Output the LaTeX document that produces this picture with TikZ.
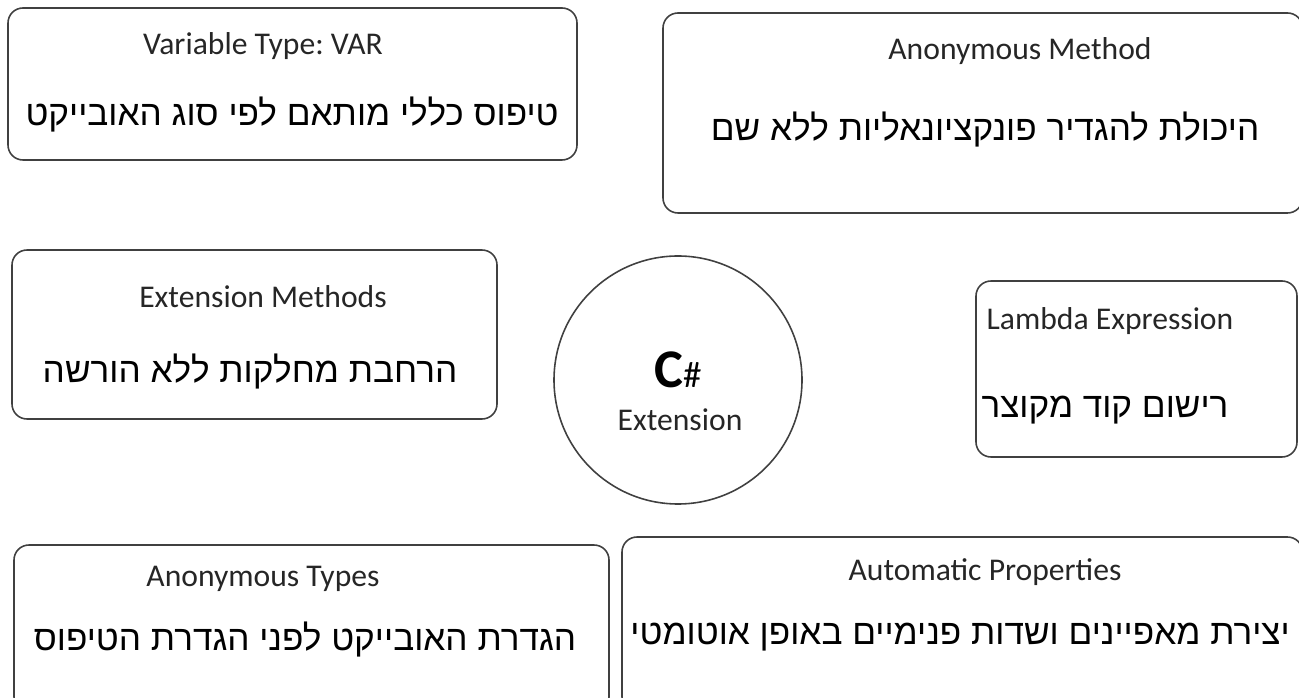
\documentclass[tikz,border=0pt]{standalone}
\usepackage{fontspec}
\setmainfont{Carlito}
\newfontfamily\hebfont[Script=Hebrew]{Liberation Sans}
\TeXXeTstate=1
\frenchspacing
\tikzset{
  box/.style={line width=0.9pt, draw=black!75, rounded corners=0.3cm},
  title/.style={text=black!85, font=\fontsize{18}{21}\selectfont},
  heb/.style={text=black, font=\hebfont\fontsize{20}{24}\selectfont},
}
\begin{document}
\begin{tikzpicture}
        \useasboundingbox (0,0) rectangle (25.98,13.94);
        \draw [box]  (0.16,13.78) rectangle (11.54,10.74);           %VAR
        \node [title] (vartitle) at (5.26,13.02) {Variable Type: VAR};
        \node [heb]   (vartext)  at (5.84,11.64) {\beginR טיפוס כללי מותאם לפי סוג האובייקט\endR};
        \draw [box]  (13.26,13.68) rectangle (26.05,9.68);           %anon method
        \node [title] (amtitle)  at (20.40,12.92) {Anonymous Method};
        \node [heb]   (amtext)   at (19.70,11.34) {\beginR היכולת להגדיר פונקציונאליות ללא שם\endR};
        \draw [box]  (0.24,8.94) rectangle (9.94,5.56);              %extension methods
        \node [title] (emtitle)  at (5.26,8.00) {Extension Methods};
        \node [heb]   (emtext)   at (5.00,6.50) {\beginR הרחבת מחלקות ללא הורשה\endR};
        \draw [line width=0.9pt, draw=black!75] (13.56,6.34) circle (2.48); %C# circle
        \node (csharp)  at (13.56,6.54) {{\fontsize{31}{34}\selectfont\bfseries C}{\fontsize{21}{24}\selectfont\#}};
        \node [title] (ext)      at (13.60,5.54) {Extension};
        \draw [box]  (19.52,8.32) rectangle (25.94,4.80);            %lambda
        \node [title] (lamtitle) at (22.20,7.52) {Lambda Expression};
        \node [heb]   (lamtext)  at (22.10,5.74) {\beginR רישום קוד מקוצר\endR};
        \draw [box]  (0.28,3.04) rectangle (12.18,-0.30);            %anon types
        \node [title] (attitle)  at (5.26,2.36) {Anonymous Types};
        \node [heb]   (attext)   at (6.10,1.14) {\beginR הגדרת האובייקט לפני הגדרת הטיפוס\endR};
        \draw [box]  (12.44,3.20) rectangle (26.05,-0.30);           %auto props
        \node [title] (aptitle)  at (19.70,2.50) {Automatic Properties};
        \node [heb]   (aptext)   at (19.20,1.20) {\beginR יצירת מאפיינים ושדות פנימיים באופן אוטומטי\endR};
       \end{tikzpicture}
\end{document}
